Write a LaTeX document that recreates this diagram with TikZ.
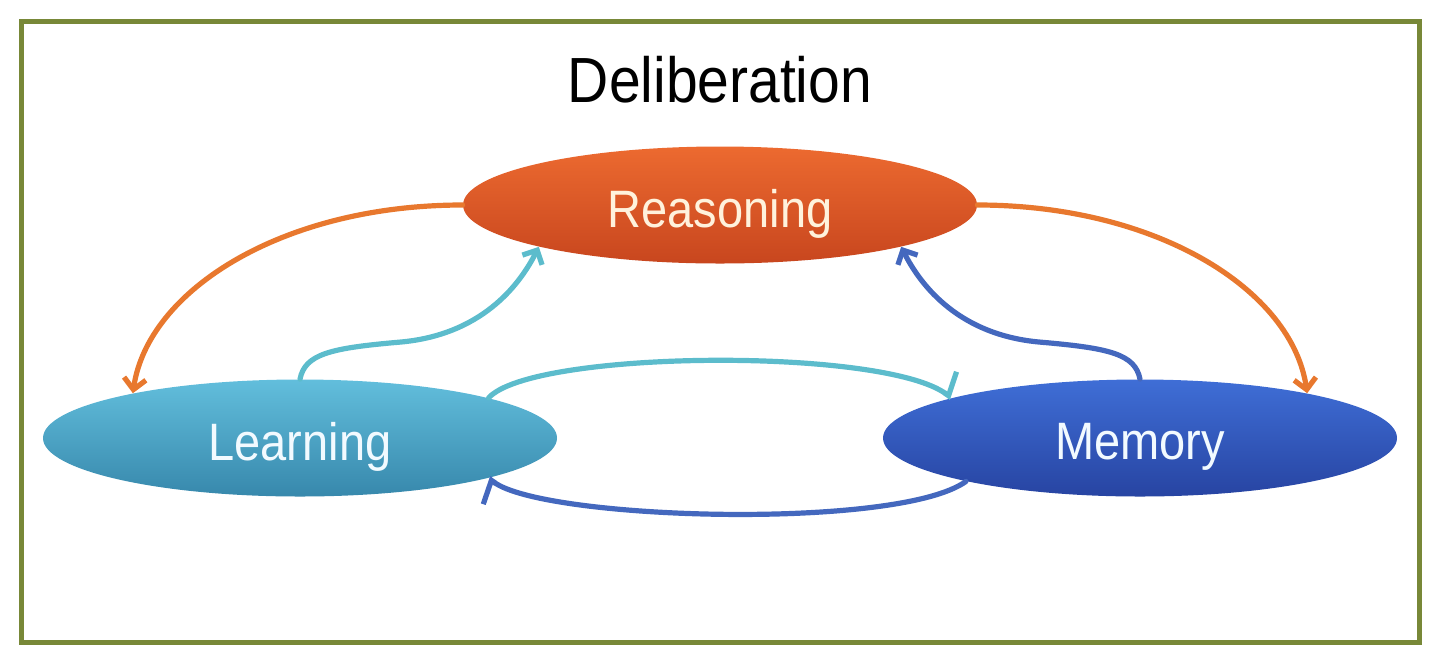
\documentclass[tikz,border=0pt]{standalone}
\usepackage{fontspec}
\usepackage{graphicx}
\setmainfont{Liberation Sans}
\usetikzlibrary{arrows.meta,shapes.geometric}
\definecolor{frameC}{HTML}{788838}
\definecolor{reasTop}{HTML}{EC6A30}
\definecolor{reasBot}{HTML}{C8461E}
\definecolor{learTop}{HTML}{62BEDC}
\definecolor{learBot}{HTML}{3788AC}
\definecolor{memTop}{HTML}{3F6ED6}
\definecolor{memBot}{HTML}{2744A2}
\definecolor{orangeL}{HTML}{E8782E}
\definecolor{cyanL}{HTML}{5CBCCC}
\definecolor{blueL}{HTML}{4468BE}
\definecolor{reasText}{HTML}{FFF2DC}
\definecolor{coolText}{HTML}{F2FAFF}
\newcommand{\lbltext}[1]{\raisebox{-4.5pt}[\height][\depth]{\scalebox{1}[1.12]{#1}}}
\begin{document}
\begin{tikzpicture}[x=0.5pt,y=-0.5pt,
  oval/.style={ellipse, minimum width=257pt, minimum height=58.5pt, inner sep=0pt},
  lbl/.style={font=\fontsize{23.5}{28}\selectfont},
  conn/.style={line width=2.6pt, line cap=round, -{Straight Barb[length=5.5pt,width=11pt]}},
  half/.style={line width=2.6pt, line cap=round, -{Straight Barb[harpoon,length=4pt,width=24pt]}}]
\useasboundingbox (0,0) rectangle (1440,660);
\draw[frameC, line width=2.5pt] (21,21) rectangle (1419,642);
\node[font=\fontsize{28.5}{34}\selectfont, anchor=base] (title) at (720,102) {\scalebox{1}[1.12]{Deliberation}};
\node[oval, top color=reasTop, bottom color=reasBot, text=reasText, lbl] (R) at (720,205) {\lbltext{Reasoning}};
\node[oval, top color=learTop, bottom color=learBot, text=coolText, lbl] (L) at (300,438) {\lbltext{Learning}};
\node[oval, top color=memTop, bottom color=memBot, text=coolText, lbl] (M) at (1140,438) {\lbltext{Memory}};
% orange arcs
\draw[conn, orangeL] (R.west) .. controls +(-180,0) and +(15,-103) .. (L.165);
\draw[conn, orangeL] (R.east) .. controls +(180,0) and +(-15,-103) .. (M.15);
% up arrows
\draw[conn, cyanL] (L.north) .. controls +(5,-25) and +(-70,6) .. ++(100,-37) .. controls +(80,-7) and +(-20,40) .. (R.193);
\draw[conn, blueL] (M.north) .. controls +(-5,-25) and +(70,6) .. ++(-100,-37) .. controls +(-80,-7) and +(20,40) .. (R.347);
% lower loop
\draw[half, cyanL] (L.12) .. controls +(43,-48) and +(-68,-51) .. (M.168);
\draw[half, blueL] (M.194) .. controls +(-68,49) and +(55,42) .. (L.348);
\end{tikzpicture}
\end{document}
